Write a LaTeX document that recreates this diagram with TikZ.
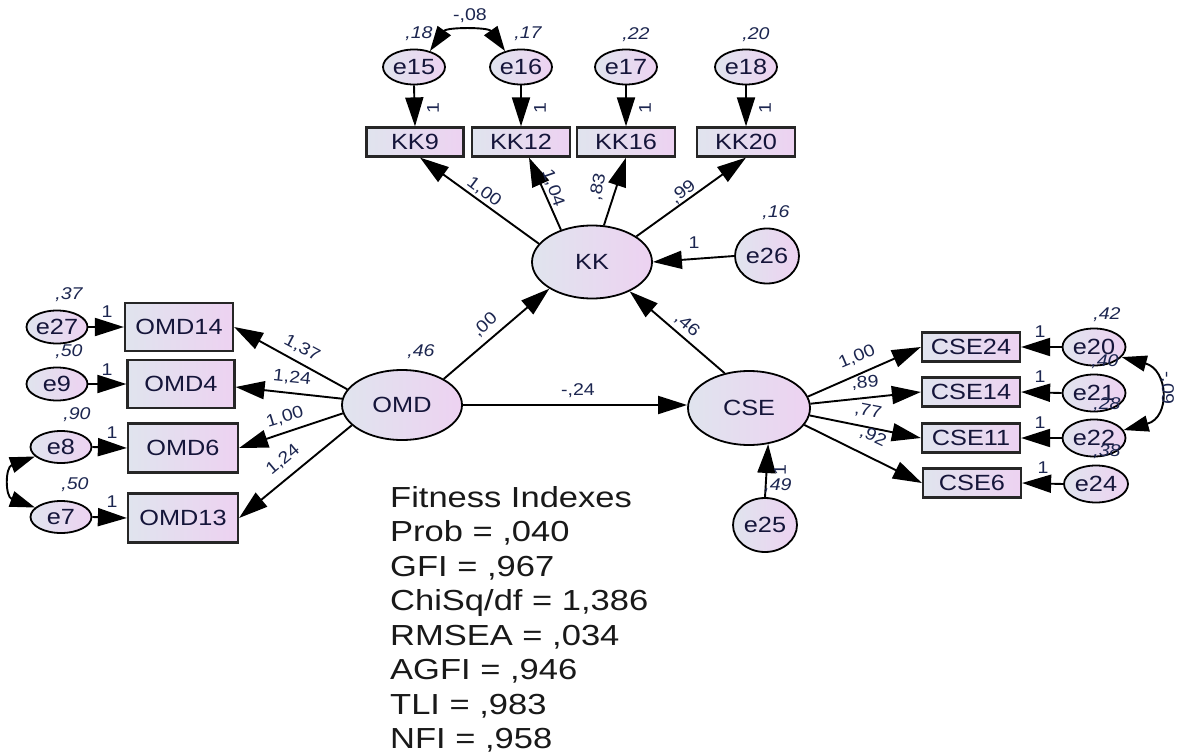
\documentclass[tikz,border=0pt]{standalone}
\usepackage{fontspec}
\setmainfont{Liberation Sans}
\usetikzlibrary{shapes.geometric,arrows.meta}
\definecolor{fillL}{HTML}{E0E4EE}
\definecolor{fillR}{HTML}{EDD2F1}
\definecolor{txt}{HTML}{15153A}
\definecolor{numc}{HTML}{1C2650}
\newcommand\hs[1]{\scalebox{1.15}[1]{#1}}
\newcommand\nodefont{\fontsize{22}{26}\selectfont}
\newcommand\lblfont{\fontsize{17}{20}\selectfont}
\begin{document}
\begin{tikzpicture}[x=1pt,y=-1pt,
 lat/.style={ellipse, draw=black, line width=1.8pt, left color=fillL, right color=fillR, inner sep=0pt, font=\nodefont, text=txt},
 err/.style={lat, minimum width=62pt, minimum height=35pt},
 ind/.style={rectangle, draw=black!85, line width=2.2pt, left color=fillL, right color=fillR, inner sep=0pt, font=\nodefont, text=txt},
 pth/.style={line width=1.9pt, -{Triangle[length=29pt,width=18pt]}},
 cov/.style={line width=1.9pt, {Triangle[length=25pt,width=16pt]}-{Triangle[length=25pt,width=16pt]}},
 lbl/.style={font=\lblfont, text=numc, inner sep=0pt},
 var/.style={lbl, font=\lblfont\itshape},
]
\useasboundingbox[fill=white] (0,0) rectangle (1182,754);

% ---------- nodes ----------
\node[err] (e15) at (414,67) {\hs{e15}};
\node[err] (e16) at (521,67) {\hs{e16}};
\node[err] (e17) at (626,67) {\hs{e17}};
\node[err] (e18) at (746,67) {\hs{e18}};
\node[ind, minimum width=97pt, minimum height=29pt] (KK9)  at (415,142) {\hs{KK9}};
\node[ind, minimum width=98pt, minimum height=29pt] (KK12) at (521,142) {\hs{KK12}};
\node[ind, minimum width=98pt, minimum height=29pt] (KK16) at (626,142) {\hs{KK16}};
\node[ind, minimum width=98pt, minimum height=29pt] (KK20) at (746,142) {\hs{KK20}};
\node[lat, minimum width=120pt, minimum height=73pt] (KK) at (592,262) {\hs{KK}};
\node[lat, minimum width=64pt, minimum height=55pt] (e26) at (767,256) {\hs{e26}};
\node[lat, minimum width=120pt, minimum height=70pt] (OMD) at (402,405) {\hs{OMD}};
\node[lat, minimum width=122pt, minimum height=74pt] (CSE) at (749,408) {\hs{CSE}};
\node[lat, minimum width=64pt, minimum height=54pt] (e25) at (765,525) {\hs{e25}};

\node[err, minimum width=61pt, minimum height=33pt] (e27) at (57,327) {\hs{e27}};
\node[err, minimum width=61pt, minimum height=33pt] (e9)  at (57,384) {\hs{e9}};
\node[err, minimum width=61pt, minimum height=32pt] (e8)  at (61,447) {\hs{e8}};
\node[err, minimum width=61pt, minimum height=32pt] (e7)  at (61,517) {\hs{e7}};
\node[ind, minimum width=108pt, minimum height=48pt] (OMD14) at (179,327) {\hs{OMD14}};
\node[ind, minimum width=107pt, minimum height=48pt] (OMD4)  at (181,384) {\hs{OMD4}};
\node[ind, minimum width=110pt, minimum height=49pt] (OMD6)  at (183,448) {\hs{OMD6}};
\node[ind, minimum width=110pt, minimum height=49pt] (OMD13) at (183,518) {\hs{OMD13}};

\node[ind, minimum width=98pt, minimum height=29pt] (CSE24) at (971,347) {\hs{CSE24}};
\node[ind, minimum width=98pt, minimum height=29pt] (CSE14) at (971,392) {\hs{CSE14}};
\node[ind, minimum width=98pt, minimum height=29pt] (CSE11) at (971,438) {\hs{CSE11}};
\node[ind, minimum width=98pt, minimum height=29pt] (CSE6)  at (972,483) {\hs{CSE6}};
\node[err, minimum width=63pt, minimum height=37pt] (e20) at (1094,347) {\hs{e20}};
\node[err, minimum width=63pt, minimum height=37pt] (e21) at (1094,393) {\hs{e21}};
\node[err, minimum width=63pt, minimum height=37pt] (e22) at (1094,438) {\hs{e22}};
\node[err, minimum width=64pt, minimum height=37pt] (e24) at (1096,484) {\hs{e24}};

% ---------- variance labels drawn beneath arcs ----------
\node[var] (v15) at (419,34) {\hs{,18}};
\node[var] (v16) at (528,34) {\hs{,17}};
\node[var] (v17) at (636,35) {\hs{,22}};
\node[var] (v18) at (756,35) {\hs{,20}};

% ---------- paths ----------
\draw[pth] (e15.south) -- (KK9.north);
\draw[pth] (e16.south) -- (KK12.north);
\draw[pth] (e17.south) -- (KK16.north);
\draw[pth] (e18.south) -- (KK20.north);
\draw[pth] (KK.161) -- ([xshift=5pt]KK9.south);
\draw[pth] (KK.134) -- ([xshift=8pt]KK12.south);
\draw[pth] (KK.72) -- (KK16.south);
\draw[pth] (KK.30) -- (KK20.south);
\draw[pth] (e26.west) -- (KK.east);
\draw[pth] (OMD.32) -- (KK.212);
\draw[pth] (CSE.125) -- (KK.322);
\draw[pth] (OMD.east) -- (CSE.west |- OMD.east);
\draw[pth] (e25.north) -- (CSE.298);

\draw[pth] (OMD.164) -- (OMD14.east);
\draw[pth] (OMD.174) -- ([yshift=-3pt]OMD4.east);
\draw[pth] (OMD.188) -- (OMD6.east);
\draw[pth] (OMD.202) -- (OMD13.east);
\draw[pth] (e27.east) -- (OMD14.west);
\draw[pth] (e9.east) -- (OMD4.west);
\draw[pth] (e8.east) -- (OMD6.west);
\draw[pth] (e7.east) -- (OMD13.west);

\draw[pth] (CSE.11) -- (CSE24.west);
\draw[pth] (CSE.4) -- (CSE14.west);
\draw[pth] (CSE.353) -- (CSE11.west);
\draw[pth] (CSE.343) -- (CSE6.west);
\draw[pth] (e20.west) -- (CSE24.east);
\draw[pth] (e21.west) -- (CSE14.east);
\draw[pth] (e22.west) -- (CSE11.east);
\draw[pth] (e24.west) -- (CSE6.east);

% ---------- covariances ----------
\draw[cov] (e15.45) to[out=55, in=125] (e16.135);
\draw[cov] (e8.200) to[out=200, in=160, looseness=1.6] (e7.160);
\draw[cov] (e20.-20) to[out=-15, in=15, looseness=1.7] (e22.15);

% ---------- labels ----------
\node[lbl] (c1516) at (470,16) {\hs{-,08}};
\node[lbl, rotate=90] (o15) at (433,108) {\hs{1}};
\node[lbl, rotate=90] (o16) at (540,108) {\hs{1}};
\node[lbl, rotate=90] (o17) at (645,108) {\hs{1}};
\node[lbl, rotate=90] (o18) at (765,108) {\hs{1}};
\node[lbl, rotate=-37] (l9)  at (484,192) {\hs{1,00}};
\node[lbl, rotate=-71] (l12) at (553,188) {\hs{1,04}};
\node[lbl, rotate=78]  (l16) at (598,187) {\hs{,83}};
\node[lbl, rotate=38]  (l20) at (683,192) {\hs{,99}};
\node[var] (v26) at (776,213) {\hs{,16}};
\node[lbl] (o26) at (694,243) {\hs{1}};
\node[lbl, rotate=43]  (lok) at (485,325) {\hs{,00}};
\node[lbl, rotate=-41] (lck) at (687,325) {\hs{,46}};
\node[var] (vomd) at (421,352) {\hs{,46}};
\node[lbl] (loc) at (578,391) {\hs{-,24}};

\node[lbl, rotate=-28] (l14) at (302,348) {\hs{1,37}};
\node[lbl, rotate=-6]  (l4)  at (292,378) {\hs{1,24}};
\node[lbl, rotate=17]  (l6)  at (285,417) {\hs{1,00}};
\node[lbl, rotate=40]  (l13) at (283,460) {\hs{1,24}};
\node[var] (v27) at (69,295) {\hs{,37}};
\node[var] (v9)  at (69,352) {\hs{,50}};
\node[var] (v8)  at (77,415) {\hs{,90}};
\node[var] (v7)  at (75,485) {\hs{,50}};
\node[lbl] (o27) at (107,312) {\hs{1}};
\node[lbl] (o9)  at (107,370) {\hs{1}};
\node[lbl] (o8)  at (112,433) {\hs{1}};
\node[lbl] (o7)  at (112,502) {\hs{1}};

\node[lbl, rotate=23]  (l24) at (857,357) {\hs{1,00}};
\node[lbl, rotate=4]   (lc14) at (865,383) {\hs{,89}};
\node[lbl, rotate=-11] (lc11) at (868,411) {\hs{,77}};
\node[lbl, rotate=-25] (lc6) at (873,437) {\hs{,92}};
\node[lbl] (o20) at (1040,332) {\hs{1}};
\node[lbl] (o21) at (1040,377) {\hs{1}};
\node[lbl] (o22) at (1040,423) {\hs{1}};
\node[lbl] (o24) at (1043,468) {\hs{1}};
\node[var] (v20) at (1107,315) {\hs{,42}};
\node[var] (v21) at (1105,362) {\hs{,40}};
\node[var] (v22) at (1107,405) {\hs{,28}};
\node[var] (v24) at (1107,452) {\hs{,38}};
\node[lbl, rotate=-90] (c2022) at (1167,388) {\hs{-,09}};
\node[lbl, rotate=90] (o25) at (780,470) {\hs{1}};
\node[var] (v25) at (778,486) {\hs{,49}};

% ---------- fit indexes ----------
\node[anchor=north west, inner sep=0pt, text=black!90, font=\fontsize{29}{34.5}\selectfont] (fit) at (390,483)
 {\scalebox{1.19}[1]{\begin{tabular}{@{}l@{}}Fitness Indexes\\Prob = ,040\\GFI = ,967\\ChiSq/df = 1,386\\RMSEA = ,034\\AGFI = ,946\\TLI = ,983\\NFI = ,958\end{tabular}}};
\end{tikzpicture}
\end{document}
